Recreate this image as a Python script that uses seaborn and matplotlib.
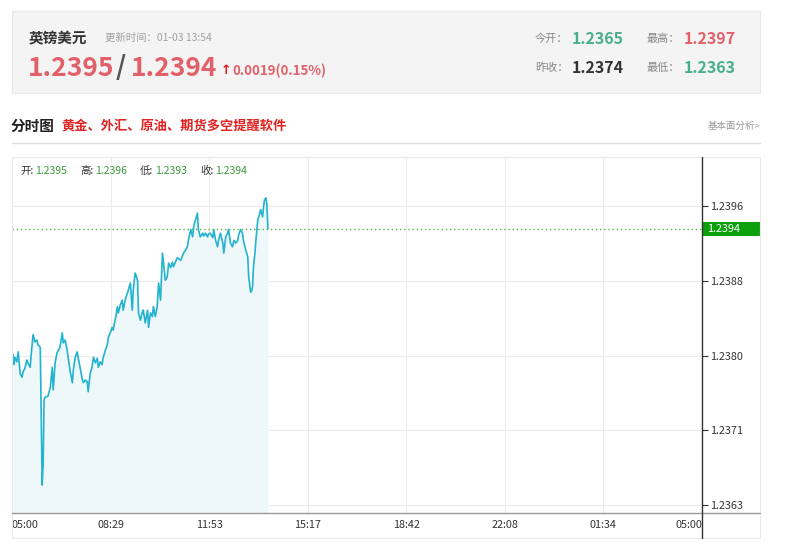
import numpy as np
import matplotlib
matplotlib.use('Agg')
import matplotlib.pyplot as plt
from matplotlib.patches import Rectangle
from matplotlib.lines import Line2D
import seaborn as sns

# minutes after 05:00 and GBP/USD price
minutes = [0, 2, 4, 6, 10, 13, 17, 21, 23, 27, 31, 33, 38, 40, 44, 48, 52, 54, 59, 61,
           63, 65, 67, 69, 75, 80, 84, 86, 90, 94, 100, 105, 107, 111, 115, 121, 126, 128, 132, 136,
           138, 142, 147, 149, 153, 157, 159, 163, 167, 170, 174, 178, 180, 184, 188, 190, 195, 199, 201, 205,
           209, 211, 216, 220, 222, 226, 230, 232, 237, 241, 247, 251, 253, 257, 262, 264, 268, 272, 274, 278,
           283, 285, 289, 293, 295, 299, 303, 306, 310, 314, 316, 320, 324, 327, 331, 335, 337, 341, 345, 352,
           358, 362, 366, 368, 373, 377, 379, 383, 387, 389, 393, 398, 400, 404, 408, 410, 414, 419, 421, 425,
           429, 431, 435, 440, 442, 446, 450, 452, 456, 460, 463, 467, 471, 473, 477, 481, 483, 488, 492, 494,
           498, 500, 502, 504, 507, 509, 513, 515, 519, 523, 525, 527, 530, 532, 534]
prices = [1.23790, 1.23796, 1.23785, 1.23793, 1.23788, 1.23799, 1.23775, 1.23771, 1.23777, 1.23781,
          1.23790, 1.23787, 1.23782, 1.23796, 1.23818, 1.23810, 1.23812, 1.23807, 1.23804, 1.23724,
          1.23652, 1.23676, 1.23746, 1.23749, 1.23750, 1.23760, 1.23782, 1.23757, 1.23787, 1.23798,
          1.23804, 1.23820, 1.23809, 1.23812, 1.23801, 1.23779, 1.23765, 1.23779, 1.23793, 1.23799,
          1.23793, 1.23782, 1.23768, 1.23765, 1.23768, 1.23766, 1.23755, 1.23775, 1.23782, 1.23793,
          1.23787, 1.23792, 1.23782, 1.23788, 1.23785, 1.23792, 1.23801, 1.23807, 1.23815, 1.23820,
          1.23826, 1.23823, 1.23836, 1.23849, 1.23842, 1.23851, 1.23856, 1.23845, 1.23858, 1.23864,
          1.23875, 1.23845, 1.23867, 1.23886, 1.23878, 1.23842, 1.23834, 1.23843, 1.23845, 1.23831,
          1.23845, 1.23826, 1.23842, 1.23838, 1.23849, 1.23838, 1.23849, 1.23875, 1.23856, 1.23908,
          1.23898, 1.23878, 1.23882, 1.23897, 1.23892, 1.23898, 1.23893, 1.23898, 1.23903, 1.23900,
          1.23908, 1.23911, 1.23915, 1.23922, 1.23934, 1.23926, 1.23937, 1.23945, 1.23952, 1.23934,
          1.23926, 1.23930, 1.23927, 1.23930, 1.23926, 1.23929, 1.23930, 1.23925, 1.23934, 1.23922,
          1.23915, 1.23922, 1.23930, 1.23919, 1.23908, 1.23926, 1.23930, 1.23934, 1.23919, 1.23915,
          1.23922, 1.23919, 1.23922, 1.23928, 1.23934, 1.23930, 1.23922, 1.23911, 1.23904, 1.23882,
          1.23865, 1.23866, 1.23871, 1.23893, 1.23908, 1.23922, 1.23945, 1.23948, 1.23956, 1.23948,
          1.23959, 1.23967, 1.23969, 1.23961, 1.23935]

xtick_labels = ['05:00', '08:29', '11:53', '15:17', '18:42', '22:08', '01:34', '05:00']
ytick_labels = ['1.2363', '1.2371', '1.2380', '1.2388', '1.2396']
y_lo, y_hi = 1.2363, 1.2396

pair = '英镑美元'
update_time = '更新时间：01-03 13:54'
bid, ask = '1.2395', '1.2394'
change = '0.0019(0.15%)'
open_today, high_today = '1.2365', '1.2397'
prev_close, low_today = '1.2374', '1.2363'
ohlc_names = ['开:', '高:', '低:', '收:']
ohlc_values = ['1.2395', '1.2396', '1.2393', '1.2394']
close_label = '1.2394'

sns.set_theme(style='white')
plt.rcParams['font.family'] = ['Noto Sans CJK SC', 'DejaVu Sans']

W, H = 800, 555
fig = plt.figure(figsize=(8, 5.55), dpi=100)


def fx(px):
    return px / W


def fy(py):
    return 1 - py / H


def ftext(px, py, s, **kw):
    kw.setdefault('va', 'center')
    fig.text(fx(px), fy(py), s, **kw)


def fline(x0, y0, x1, y1, **kw):
    fig.add_artist(Line2D([fx(x0), fx(x1)], [fy(y0), fy(y1)], transform=fig.transFigure, **kw))


# header box
fig.add_artist(Rectangle((fx(12), fy(93)), fx(760) - fx(12), fy(11) - fy(93),
                         transform=fig.transFigure, facecolor='#f4f4f4', edgecolor='#e8e8e8', lw=0.8))
ftext(29, 38, pair, fontsize=10.5, fontweight='bold', color='#333333')
ftext(105, 38, update_time, fontsize=7.5, color='#a0a0a0')
red = '#e2606a'
ftext(28, 68, bid, fontsize=19, fontweight='bold', color=red)
ftext(116, 68, '/', fontsize=19, fontweight='bold', color='#555555')
ftext(131, 68, ask, fontsize=19, fontweight='bold', color=red)
ftext(221, 71, '↑', fontsize=9, fontweight='bold', color='#e01818', family='DejaVu Sans')
ftext(232, 71, change, fontsize=9.5, fontweight='bold', color=red)

green_num = '#47b08a'
ftext(535, 39, '今开：', fontsize=8, color='#888888')
ftext(572, 39, open_today, fontsize=11.5, fontweight='bold', color=green_num)
ftext(647, 39, '最高：', fontsize=8, color='#888888')
ftext(684, 39, high_today, fontsize=11.5, fontweight='bold', color=red)
ftext(535, 68, '昨收：', fontsize=8, color='#888888')
ftext(572, 68, prev_close, fontsize=11.5, fontweight='bold', color='#333333')
ftext(647, 68, '最低：', fontsize=8, color='#888888')
ftext(684, 68, low_today, fontsize=11.5, fontweight='bold', color=green_num)

# section title
ftext(11, 126, '分时图', fontsize=10.5, fontweight='bold', color='#222222')
ftext(61, 126, '黄金、外汇、原油、期货多空提醒软件', fontsize=9.5, fontweight='bold', color='#e02222')
ftext(760, 126, '基本面分析>', fontsize=6.8, color='#999999', ha='right')
fline(12, 143, 760, 143, color='#dddddd', lw=1)

# chart panel frame
fig.add_artist(Rectangle((fx(12), fy(538)), fx(760) - fx(12), fy(157) - fy(538),
                         transform=fig.transFigure, facecolor='none', edgecolor='#eaeaea', lw=0.8))

ax = fig.add_axes([fx(12), fy(513), fx(702) - fx(12), fy(157) - fy(513)])
px_per_price = (505 - 206) / (y_hi - y_lo)
ax.set_ylim(y_lo - (513 - 505) / px_per_price, y_hi + (206 - 157) / px_per_price)
ax.set_xlim(0, 1440)

ax.fill_between(minutes, prices, ax.get_ylim()[0], color='#eef8fb', lw=0)
sns.lineplot(x=minutes, y=prices, ax=ax, color='#22b3cf', lw=1.2)
ax.axhline(prices[-1], color='#52b552', lw=1, ls=(0, (1, 2)))

ax.set_xticks(np.linspace(0, 1440, len(xtick_labels)))
ax.set_xticklabels(xtick_labels)
tl = ax.get_xticklabels()
tl[0].set_ha('left')
tl[-1].set_ha('right')
ax.set_yticks(np.linspace(y_lo, y_hi, len(ytick_labels)))
ax.set_yticklabels(ytick_labels)
ax.yaxis.tick_right()
ax.tick_params(axis='x', length=0, pad=5, labelsize=7.8, labelcolor='#333333')
ax.tick_params(axis='y', length=4, width=0.8, color='#333333', pad=2, labelsize=7.8, labelcolor='#333333')
ax.grid(True, color='#ececec', lw=0.8)
for s in ax.spines.values():
    s.set_visible(False)
ax.set_xlabel('')
ax.set_ylabel('')

# current price tag
tag_h = 14 / px_per_price
ax.add_patch(Rectangle((1.0, prices[-1] - tag_h / 2), 58 / 690, tag_h,
                       transform=ax.get_yaxis_transform(), facecolor='#0da00d',
                       edgecolor='none', clip_on=False, zorder=5))
ax.text(1.008, prices[-1], close_label, transform=ax.get_yaxis_transform(),
        va='center', ha='left', fontsize=7.8, color='white', zorder=6)

# legend line
x = 20
for name, val in zip(ohlc_names, ohlc_values):
    ftext(x, 171, name, fontsize=7.5, color='#333333')
    ftext(x + 15, 171, val, fontsize=7.5, color='#3a9a3a')
    x += 60

fline(12, 513, 760, 513, color='#999999', lw=1)
fline(702, 157, 702, 538, color='#333333', lw=1)

fig.savefig('out.png', dpi=100)
